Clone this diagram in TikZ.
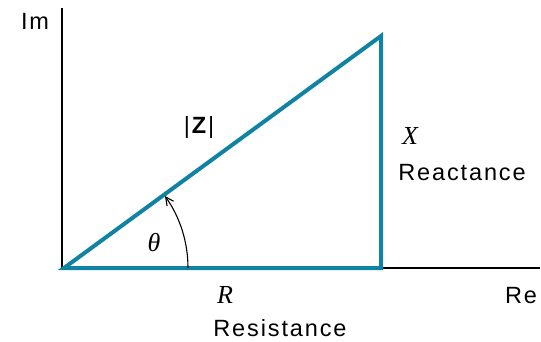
\documentclass[tikz,border=0pt]{standalone}
\usepackage{fontspec}
\setmainfont{Liberation Sans}
\newfontfamily\lblfont[LetterSpace=8]{Liberation Sans}
\newfontfamily\symfont{Liberation Serif}
\usetikzlibrary{arrows.meta}
\definecolor{teal1}{RGB}{16,130,162}
\begin{document}
\begin{tikzpicture}[x=1pt,y=-1pt,
  axis/.style={draw=black,line width=2pt},
  side/.style={draw=teal1,line width=4pt,line join=miter},
  lbl/.style={inner sep=0pt,font=\lblfont\fontsize{23.5}{26}\selectfont},
  mlbl/.style={inner sep=0pt,font=\symfont\itshape\fontsize{26}{28}\selectfont}]
\useasboundingbox (0,0) rectangle (541,342);
\coordinate (O) at (64,268);
\coordinate (T) at (381,36);
\coordinate (C) at (381,268);
\coordinate (ImEnd) at (62,8);
\coordinate (ReEnd) at (540,268);
\coordinate (A0) at (188,268);
\draw[axis] (62,269) -- (ImEnd);
\draw[axis] (62,268) -- (ReEnd);
\draw[side] (O) -- (T) -- (C) -- cycle;
\draw[black,line width=1.1pt,-{Straight Barb[length=8pt,width=8pt]}] (A0) arc[start angle=0,end angle=-35.5,radius=124];
\node[lbl] (Im) at (35,21) {Im};
\node[lbl] (Re) at (521,296) {Re};
\node[lbl] (Z) at (199,127) {|\textbf{Z}|};
\node[mlbl] (th) at (154,243) {θ};
\node[mlbl] (X) at (410,136) {X};
\node[lbl] (Xl) at (462,173) {Reactance};
\node[mlbl] (R) at (225,295) {R};
\node[lbl] (Rl) at (280,328) {Resistance};
\end{tikzpicture}
\end{document}
